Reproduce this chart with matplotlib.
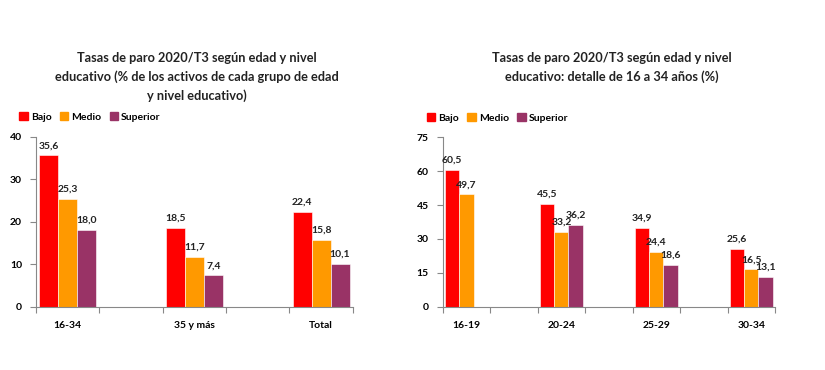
import matplotlib.pyplot as plt
import numpy as np

plt.rcParams['font.family'] = ['Lato', 'DejaVu Sans']

series = ["Bajo", "Medio", "Superior"]
colors = ["#FF0000", "#FF9900", "#993366"]

left_title = "Tasas de paro 2020/T3 según edad y nivel\neducativo (% de los activos de cada grupo de edad\ny nivel educativo)"
left_cats = ["16-34", "35 y más", "Total"]
left_bajo = [35.6, 18.5, 22.4]
left_medio = [25.3, 11.7, 15.8]
left_sup = [18.0, 7.4, 10.1]
left_yticks = [0, 10, 20, 30, 40]

right_title = "Tasas de paro 2020/T3 según edad y nivel\neducativo: detalle de 16 a 34 años (%)"
right_cats = ["16-19", "20-24", "25-29", "30-34"]
right_bajo = [60.5, 45.5, 34.9, 25.6]
right_medio = [49.7, 33.2, 24.4, 16.5]
right_sup = [np.nan, 36.2, 18.6, 13.1]
right_yticks = [0, 15, 30, 45, 60, 75]

fig = plt.figure(figsize=(8.25, 3.7), dpi=100)

def fmt(v):
    return f"{v:.1f}".replace(".", ",")

def panel(rect, cats, vals, yticks, title, title_xy, legend_xy):
    ax = fig.add_axes(rect)
    n = len(cats)
    slots = 2 * n - 1
    pos = np.arange(n) * 2
    w = 0.3
    for i, (v, c) in enumerate(zip(vals, colors)):
        x = pos - w + i * w
        ax.bar(x, v, width=w, color=c, edgecolor='white', linewidth=0.4, zorder=2)
        for xi, vi in zip(x, v):
            if not np.isnan(vi):
                ax.text(xi, vi + yticks[-1] * 0.03, fmt(vi), ha='center', va='bottom',
                        fontsize=7.5, fontweight='bold', color='#222222')
    ax.set_xlim(-0.5, slots - 0.5)
    ax.set_ylim(0, yticks[-1])
    ax.set_yticks(yticks)
    ax.set_yticklabels([str(t) for t in yticks], fontsize=7.5, fontweight='bold')
    ax.set_xticks(np.arange(slots + 1) - 0.5)
    ax.set_xticklabels([])
    ax.set_xticks(pos, minor=True)
    ax.set_xticklabels(cats, minor=True, fontsize=7.5, fontweight='bold')
    ax.tick_params(axis='x', which='minor', length=0, pad=10)
    ax.tick_params(axis='x', which='major', length=4, color='#888888', direction='out')
    ax.tick_params(axis='y', length=4, color='#888888', direction='out', pad=6)
    for s in ['top', 'right']:
        ax.spines[s].set_visible(False)
    for s in ['left', 'bottom']:
        ax.spines[s].set_color('#888888')
        ax.spines[s].set_linewidth(0.8)
    fig.text(title_xy[0], title_xy[1], title, ha='center', va='top', fontsize=9.2,
             fontweight='bold', color='#222222', linespacing=1.6)
    handles = [plt.Rectangle((0, 0), 1, 1, color=c) for c in colors]
    fig.legend(handles, series, loc='center left', bbox_to_anchor=legend_xy, ncol=3,
               frameon=False, handlelength=0.8, handleheight=0.8,
               handletextpad=0.3, columnspacing=0.8, prop={'weight': 'bold', 'size': 7.5})
    return ax

panel([0.0436, 0.171, 0.384, 0.4595], left_cats,
      [left_bajo, left_medio, left_sup], left_yticks, left_title,
      (0.239, 1 - 51.5 / 370), (0.012, 1 - 117 / 370))
panel([0.5366, 0.171, 0.4028, 0.458], right_cats,
      [right_bajo, right_medio, right_sup], right_yticks, right_title,
      (0.742, 1 - 51.5 / 370), (0.506, 1 - 118 / 370))

fig.savefig("out.png", dpi=100, facecolor='white')
